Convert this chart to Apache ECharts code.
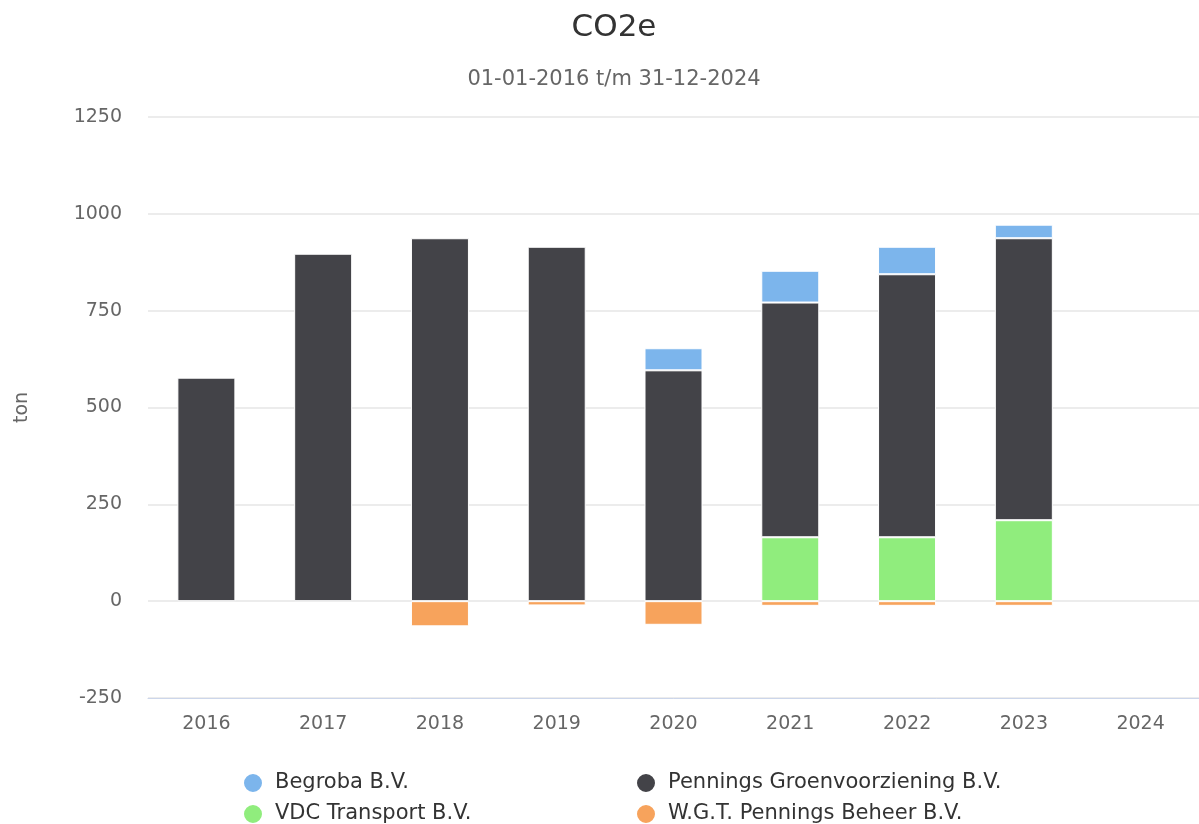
<!DOCTYPE html>
<html>
<head>
<meta charset="utf-8">
<title>CO2e</title>
<script src="https://cdn.jsdelivr.net/npm/echarts@6/dist/echarts.min.js"></script>
<style>
  html, body { margin: 0; padding: 0; background: #fff; }
  #main { width: 1199px; height: 824px; }
</style>
</head>
<body>
<div id="main"></div>
<script>
var years = ['2016', '2017', '2018', '2019', '2020', '2021', '2022', '2023', '2024'];
var begroba = [null, null, null, null, 57, 82, 71, 35, null];
var pennings = [577, 897, 937, 915, 596, 606, 679, 728, null];
var vdc = [null, null, null, null, null, 165, 165, 209, null];
var wgt = [null, null, -65, -11, -61, -12, -12, -12, null];
var yTicks = [-250, 0, 250, 500, 750, 1000, 1250];

onload = function () {
    var myChart = echarts.init(document.getElementById('main'));
    var font = 'DejaVu Sans';

    function bar(name, data, color) {
        return {
            name: name,
            type: 'bar',
            stack: 'total',
            barWidth: 58,
            data: data,
            itemStyle: { color: color, borderColor: '#fff', borderWidth: 1 },
            emphasis: { disabled: true }
        };
    }

    // two columns, each a vertical legend
    function legendCol(id, left, names) {
        return {
            id: id,
            orient: 'vertical',
            left: left,
            top: 772,
            width: 380,
            height: 100,
            padding: 0,
            icon: 'circle',
            itemWidth: 20,
            itemHeight: 20,
            itemGap: 9,
            selectedMode: false,
            data: names,
            textStyle: { color: '#333', fontSize: 21, fontFamily: font, padding: [0, 0, 0, 7] }
        };
    }

    myChart.setOption({
        backgroundColor: '#fff',
        animation: false,
        title: {
            text: 'CO2e',
            subtext: '01-01-2016 t/m 31-12-2024',
            left: 609,
            textAlign: 'center',
            top: 7,
            itemGap: 26,
            textStyle: { color: '#333', fontSize: 31, fontWeight: 'normal', fontFamily: font },
            subtextStyle: { color: '#666', fontSize: 21, fontFamily: font }
        },
        legend: [
            legendCol('l1', 242, ['Begroba B.V.', 'VDC Transport B.V.']),
            legendCol('l2', 635, ['Pennings Groenvoorziening B.V.', 'W.G.T. Pennings Beheer B.V.'])
        ],
        grid: { left: 148, right: -4, top: 117, bottom: 126 },
        xAxis: {
            type: 'category',
            data: years,
            axisLine: { onZero: false, lineStyle: { color: '#ccd6eb' } },
            axisTick: { show: false },
            axisLabel: { color: '#666', fontSize: 19, fontFamily: font, margin: 17 }
        },
        yAxis: {
            type: 'value',
            min: yTicks[0],
            max: yTicks[yTicks.length - 1],
            interval: 250,
            name: 'ton',
            nameLocation: 'middle',
            nameGap: 116,
            nameTextStyle: { color: '#666', fontSize: 19, fontFamily: font },
            axisLine: { show: false },
            axisTick: { show: false },
            axisLabel: {
                color: '#666', fontSize: 19, fontFamily: font, margin: 26,
                formatter: function (v) { return String(v); }
            },
            splitLine: { lineStyle: { color: '#e6e6e6', width: 1.5 } }
        },
        series: [
            bar('VDC Transport B.V.', vdc, '#90ed7d'),
            bar('Pennings Groenvoorziening B.V.', pennings, '#434348'),
            bar('Begroba B.V.', begroba, '#7cb5ec'),
            bar('W.G.T. Pennings Beheer B.V.', wgt, '#f7a35c')
        ]
    });
};
</script>
</body>
</html>
